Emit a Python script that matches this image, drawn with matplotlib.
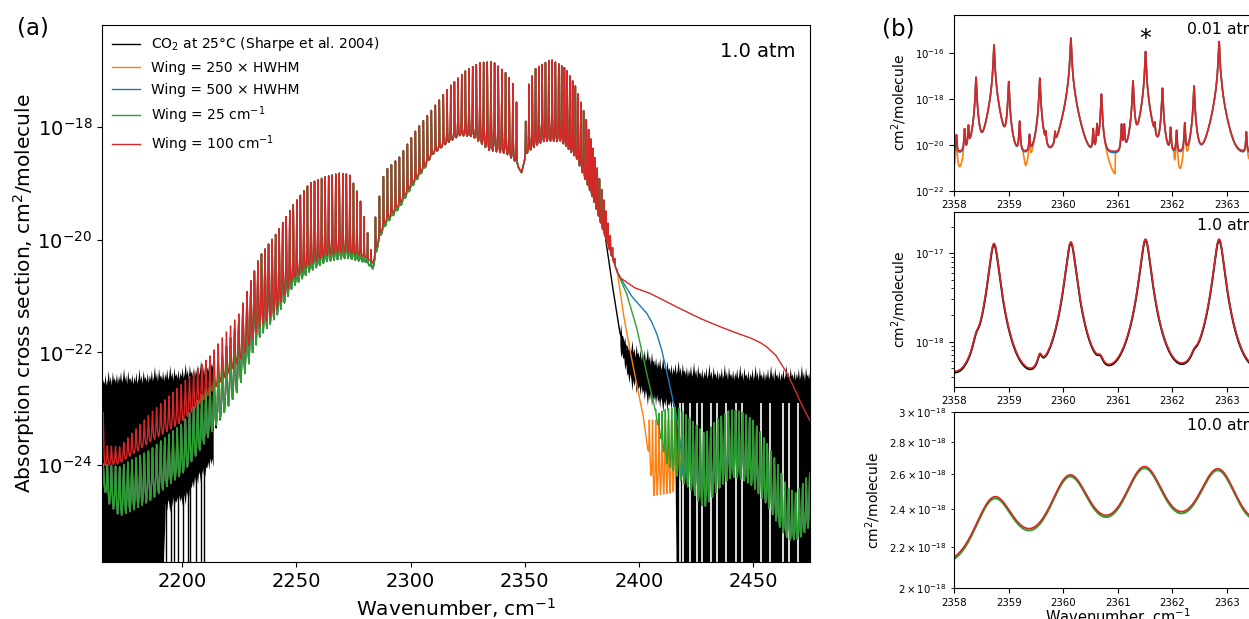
import numpy as np
import matplotlib
matplotlib.use("Agg")
import matplotlib.pyplot as plt
from matplotlib.ticker import FixedLocator, NullLocator

plt.rcParams['font.family'] = ['DejaVu Sans']
plt.rcParams['mathtext.fontset'] = 'dejavusans'

C_BLACK, C_ORANGE, C_BLUE, C_GREEN, C_RED = 'k', '#ff7f0e', '#1f77b4', '#2ca02c', '#d62728'

# ======================= panel (a): values =======================
# all envelope values are log10(cross section / cm^2 molecule^-1)
LINE_SEG_START = [2165.3, 2230.0, 2284.6, 2316.0, 2350.4, 2365.0, 2378.0, 2404.6, 2416.0]
LINE_SEG_STOP = [2230.0, 2282.9, 2316.0, 2348.0, 2365.0, 2378.0, 2392.0, 2416.0, 2475.5]
LINE_SEG_STEP = [1.8, 1.55, 1.75, 1.6, 1.45, 1.2, 0.95, 1.4, 1.55]
GAMMA_NU = [2164.8, 2228.0, 2250.0, 2395.0, 2410.0, 2475.5]
GAMMA_VAL = [0.22, 0.15, 0.05, 0.05, 0.12, 0.15]

RED_UP_NU = [2165.2, 2166.0, 2172.4, 2185.5, 2200.0, 2211.8, 2225.0, 2233.8, 2241.0, 2248.4,
             2255.7, 2263.0, 2268.9, 2273.2, 2277.6, 2280.6, 2282.8, 2284.6, 2287.9, 2289.3,
             2295.2, 2302.5, 2309.8, 2317.1, 2324.4, 2330.3, 2336.1, 2342.0, 2345.6, 2347.8,
             2350.4, 2351.9, 2354.8, 2361.4, 2368.0, 2372.3, 2376.7, 2381.1, 2385.5, 2388.4, 2390.6]
RED_UP_LOG = [-23.0, -23.65, -23.68, -23.1, -22.55, -22.08, -21.3, -20.3, -19.9, -19.39,
              -19.0, -18.88, -18.82, -18.84, -19.24, -19.77, -20.2, -19.6, -18.9, -18.76,
              -18.53, -18.05, -17.67, -17.28, -16.99, -16.86, -16.84, -17.05, -17.28, -18.05,
              -17.9, -17.22, -16.96, -16.80, -16.96, -17.28, -17.82, -18.59, -19.47, -20.13, -20.58]

RED_LO_NU = [2165.2, 2172.4, 2185.5, 2200.0, 2211.8, 2225.0, 2233.8, 2240.0, 2248.4, 2255.7,
             2263.0, 2271.7, 2280.6, 2283.5, 2286.4, 2289.3, 2295.2, 2299.6, 2306.9, 2309.8,
             2315.6, 2321.5, 2327.3, 2334.6, 2342.0, 2346.4, 2348.6, 2350.7, 2358.0, 2365.4,
             2372.7, 2380.0, 2385.8, 2390.6]
RED_LO_LOG = [-24.05, -24.0, -23.65, -23.3, -22.8, -22.24, -21.8, -21.5, -20.75, -20.5,
              -20.32, -20.26, -20.32, -20.42, -19.92, -19.68, -19.38, -19.08, -18.67, -18.49,
              -18.31, -18.17, -18.2, -18.49, -18.52, -18.67, -18.81, -18.49, -18.31, -18.31,
              -18.61, -19.32, -20.03, -20.58]

RED_TAIL_NU = [2390.6, 2392.0, 2394.6, 2398.0, 2404.8, 2412.0, 2419.4, 2427.0, 2434.1, 2441.0,
               2448.7, 2453.0, 2456.0, 2460.0, 2463.3, 2466.0, 2469.1, 2472.0, 2475.5]
RED_TAIL_LOG = [-20.58, -20.68, -20.75, -20.85, -20.95, -21.1, -21.25, -21.4, -21.52, -21.63,
                -21.74, -21.82, -21.9, -22.05, -22.26, -22.45, -22.73, -22.98, -23.25]

GREEN_UP_NU = [2165.2, 2172.4, 2185.5, 2200.0, 2211.8, 2225.0]
GREEN_UP_LOG = [-23.98, -24.03, -23.74, -23.26, -22.55, -21.4]
GREEN_LO_NU = [2165.2, 2168.0, 2172.4, 2178.3, 2185.5, 2192.8, 2200.0, 2207.3, 2211.8, 2222.0,
               2229.4, 2236.0, 2243.0, 2248.4, 2255.7, 2263.0, 2271.7, 2280.6, 2283.5, 2286.4,
               2289.3, 2295.2, 2299.6, 2306.9]
GREEN_LO_LOG = [-24.4, -24.8, -25.1, -25.0, -24.82, -24.55, -24.3, -23.9, -23.6, -23.07,
                -22.65, -22.0, -21.42, -20.9, -20.64, -20.45, -20.39, -20.41, -20.52, -19.98,
                -19.74, -19.44, -19.14, -18.7]
GREEN_TAIL_LO_NU = [2390.6, 2394.6, 2399.0, 2403.4, 2406.3, 2409.3, 2412.2, 2418.0, 2423.0, 2428.0,
                    2432.0, 2437.0, 2442.0, 2449.0, 2456.0, 2462.0, 2466.0, 2471.0, 2475.5]
GREEN_TAIL_LO_LOG = [-20.58, -20.95, -21.55, -22.37, -22.85, -23.5, -24.1, -24.5, -24.7, -25.1,
                     -24.9, -24.6, -24.45, -24.6, -24.9, -25.3, -25.45, -25.4, -25.2]
GREEN_TAIL_UP_NU = [2390.6, 2394.6, 2399.0, 2403.4, 2406.3, 2408.0, 2412.0, 2417.0, 2423.0, 2429.0,
                    2434.0, 2440.0, 2445.0, 2450.0, 2456.0, 2461.0, 2465.0, 2469.0, 2475.5]
GREEN_TAIL_UP_LOG = [-20.58, -20.95, -21.55, -22.37, -22.85, -23.1, -23.0, -22.97, -23.2, -23.45,
                     -23.2, -23.02, -23.05, -23.2, -23.6, -24.0, -24.4, -24.5, -24.1]

ORANGE_TAIL_LO_NU = [2390.6, 2393.2, 2396.1, 2399.0, 2402.0, 2404.9, 2406.3, 2410.0, 2415.0, 2416.5]
ORANGE_TAIL_LO_LOG = [-20.58, -21.31, -21.96, -22.55, -23.15, -24.03, -24.8, -24.9, -24.85, -24.6]
ORANGE_TAIL_UP_NU = [2390.6, 2393.2, 2396.1, 2399.0, 2402.0, 2404.0, 2415.0, 2416.5]
ORANGE_TAIL_UP_LOG = [-20.58, -21.31, -21.96, -22.55, -23.15, -23.2, -23.2, -23.0]

BLUE_TAIL_NU = [2390.6, 2393.0, 2396.8, 2400.0, 2403.4, 2405.4, 2407.8, 2410.0, 2412.0, 2414.4,
                2416.6, 2418.2, 2419.5]
BLUE_TAIL_LOG = [-20.58, -20.75, -21.0, -21.15, -21.3, -21.44, -21.66, -21.95, -22.3, -22.75,
                 -23.15, -23.6, -24.2]

BLACK_FALL_NU = [2385.5, 2388.0, 2391.7, 2394.6, 2395.5]
BLACK_FALL_LOG = [-20.0, -20.7, -21.66, -21.9, -22.0]
BLACK_EXTRA_NU = [2204.0, 2210.0, 2218.0]
BLACK_EXTRA_LOG = [-0.3, -0.2, 0.0]

NOISE_L_NU = [2164.8, 2172.0, 2180.0, 2188.0, 2196.0, 2204.0, 2210.0, 2213.5]
NOISE_L_TOP = [-22.62, -22.55, -22.57, -22.52, -22.5, -22.45, -22.4, -22.3]
NOISE_L_BOT_NU = [2164.8, 2191.5, 2192.5, 2200.0, 2207.0, 2213.5]
NOISE_L_BOT = [-26.0, -26.0, -24.6, -24.5, -24.1, -23.8]
NOISE_R_NU = [2391.7, 2395.0, 2400.0, 2405.0, 2412.0, 2420.0, 2430.0, 2450.0, 2475.5]
NOISE_R_TOP = [-21.7, -22.02, -22.12, -22.22, -22.38, -22.43, -22.48, -22.5, -22.5]
NOISE_R_BOT_NU = [2391.7, 2395.0, 2400.0, 2405.0, 2410.0, 2415.6, 2416.4, 2475.5]
NOISE_R_BOT = [-21.8, -22.3, -22.55, -22.7, -22.78, -22.85, -26.0, -26.0]
NOISE_TEXTURE = [0.00, 0.14, 0.05, 0.22, 0.02, 0.10, 0.28, 0.06, 0.16, 0.0, 0.24, 0.08, 0.12, 0.03, 0.19]

BLACK_DROP_NU = [2192.9, 2195.0, 2196.4, 2198.0, 2200.1, 2202.3, 2203.4, 2206.0, 2208.2, 2209.4]
WHITE_GAP_NU = [2417.9, 2419.5, 2422.4, 2425.4, 2427.5, 2431.8, 2434.3, 2438.0, 2442.8, 2445.0,
                2453.7, 2457.6, 2463.3, 2465.9, 2469.8]

A_TICKS_X = [2200, 2250, 2300, 2350, 2400, 2450]
A_TICKS_Y = [1e-24, 1e-22, 1e-20, 1e-18]
LEGEND_LABELS = ['CO$_2$ at 25°C (Sharpe et al. 2004)', 'Wing = 250 × HWHM', 'Wing = 500 × HWHM',
                 'Wing = 25 cm$^{-1}$', 'Wing = 100 cm$^{-1}$']

# ======================= panel (b): values =======================
B_NU_001 = [2358.04, 2358.19, 2358.26, 2358.40, 2358.73, 2359.00, 2359.20, 2359.38, 2359.57, 2359.68,
            2359.85, 2360.14, 2360.55, 2360.62, 2360.70, 2361.07, 2361.12, 2361.28, 2361.51, 2361.68,
            2361.82, 2361.97, 2362.08, 2362.23, 2362.40, 2362.86, 2362.90, 2363.36]
B_PEAK_001 = [-19.64, -19.35, -19.2, -17.05, -15.64, -17.24, -18.99, -19.64, -17.09, -19.6,
              -19.6, -15.34, -19.35, -19.13, -17.79, -19.13, -19.13, -17.21, -15.93, -19.2,
              -17.53, -19.28, -19.42, -19.06, -17.43, -15.49, -17.9, -19.49]
B_BASE_001_RED = -20.30
B_BASE_001_BLUE = -20.36
ORANGE_BASE_NU = [2357.99, 2358.10, 2358.16, 2358.175, 2359.26, 2359.31, 2359.36, 2359.42, 2359.48,
                  2360.73, 2360.95, 2360.955, 2362.03, 2362.05, 2362.17, 2362.20, 2362.27, 2362.31,
                  2362.325, 2363.33, 2363.40, 2364.0]
ORANGE_BASE_LOG = [-21.15, -21.2, -21.0, -20.36, -20.36, -21.24, -21.0, -21.1, -20.36,
                   -20.36, -21.53, -20.36, -20.36, -21.62, -21.66, -21.4, -21.24, -21.2,
                   -20.36, -20.36, -20.7, -20.7]

B_NU_1 = [2357.35, 2358.40, 2358.73, 2359.57, 2360.14, 2360.68, 2361.51, 2362.40, 2362.86, 2364.20]
B_AMP_1_MODEL = [12.0, 0.25, 12.8, 0.2, 13.3, 0.12, 14.3, 0.10, 14.3, 13.5]   # 1e-18 cm^2
B_AMP_1_OBS = [11.6, 0.25, 12.4, 0.2, 12.9, 0.12, 13.9, 0.10, 13.9, 13.1]
B_GAM_1 = [0.09, 0.06, 0.09, 0.05, 0.09, 0.06, 0.09, 0.06, 0.09, 0.09]

B_NU_10 = [2357.35, 2358.73, 2360.12, 2361.49, 2362.84, 2364.20]
B_GAM_10 = 0.55
T_NU_10 = [2358.0, 2358.75, 2359.4, 2360.08, 2360.78, 2361.45, 2362.1, 2362.8, 2363.4]
T_VAL_10_RED = [2.15, 2.47, 2.29, 2.59, 2.37, 2.64, 2.39, 2.63, 2.37]     # 1e-18 cm^2
T_VAL_10_GREEN = [2.14, 2.46, 2.28, 2.58, 2.36, 2.63, 2.38, 2.62, 2.36]

B_TICKS_X = [2358, 2359, 2360, 2361, 2362, 2363, 2364]
B_LABELS = ['0.01 atm', '1.0 atm', '10.0 atm']


# ======================= helpers =======================
def env(x, kn, kv):
    return np.interp(x, kn, kv)


def comb(x, centers, gamma):
    centers = np.sort(np.asarray(centers))
    idx = np.searchsorted(centers, x)
    left = centers[np.clip(idx - 1, 0, len(centers) - 1)]
    right = centers[np.clip(idx, 0, len(centers) - 1)]
    d = np.minimum(np.abs(x - left), np.abs(x - right))
    return gamma ** 2 / (gamma ** 2 + d ** 2)


def spec(up_log, lo_log, L):
    lo = 10.0 ** lo_log
    up = 10.0 ** np.maximum(up_log, lo_log)
    return lo + (up - lo) * L


def lines_sum(x, centers, amps, gams, decay=None):
    out = np.zeros_like(x)
    for c, a, g in zip(centers, amps, gams):
        d = x - c
        prof = g * g / (g * g + d * d)
        if decay is not None:
            prof = prof * np.exp(-np.abs(d) / decay)
        out += a * prof
    return out


# ======================= figure =======================
fig = plt.figure(figsize=(12.49, 6.19), dpi=100)
ax = fig.add_axes([0.0817, 0.0921, 0.5668, 0.8675])

nu = np.arange(2164.8, 2475.01, 0.01)
centers = np.concatenate([np.arange(s, e, st) for s, e, st in
                          zip(LINE_SEG_START, LINE_SEG_STOP, LINE_SEG_STEP)])
L = comb(nu, centers, env(nu, GAMMA_NU, GAMMA_VAL))

red_up = np.where(nu < 2390.6, env(nu, RED_UP_NU, RED_UP_LOG), env(nu, RED_TAIL_NU, RED_TAIL_LOG))
red_lo = np.where(nu < 2390.6, env(nu, RED_LO_NU, RED_LO_LOG), env(nu, RED_TAIL_NU, RED_TAIL_LOG))

band_up = np.where(nu < 2225.0, env(nu, GREEN_UP_NU, GREEN_UP_LOG), red_up)
band_lo = np.where(nu < 2306.9, env(nu, GREEN_LO_NU, GREEN_LO_LOG), red_lo)
g_tail_up = env(nu, GREEN_TAIL_UP_NU, GREEN_TAIL_UP_LOG)
g_tail_lo = env(nu, GREEN_TAIL_LO_NU, GREEN_TAIL_LO_LOG)
green_up = np.where(nu < 2390.6, band_up, g_tail_up)
green_lo = np.where(nu < 2390.6, band_lo, g_tail_lo)

o_up = np.where(nu < 2416.5, env(nu, ORANGE_TAIL_UP_NU, ORANGE_TAIL_UP_LOG), g_tail_up)
o_lo = np.where(nu < 2416.5, env(nu, ORANGE_TAIL_LO_NU, ORANGE_TAIL_LO_LOG), g_tail_lo)
orange_up = np.where(nu < 2390.6, band_up, o_up)
orange_lo = np.where(nu < 2390.6, band_lo, o_lo)

b_tail = env(nu, BLUE_TAIL_NU, BLUE_TAIL_LOG)
b_up = np.where(nu < 2419.5, b_tail, g_tail_up)
b_lo = np.where(nu < 2419.5, b_tail, g_tail_lo)
blue_up = np.where(nu < 2390.6, band_up, b_up)
blue_lo = np.where(nu < 2390.6, band_lo, b_lo)

fall = env(nu, BLACK_FALL_NU, BLACK_FALL_LOG)
black_up = np.where(nu < 2385.5, band_up, fall)
black_lo = np.where(nu < 2385.5, band_lo + env(nu, BLACK_EXTRA_NU, BLACK_EXTRA_LOG), fall)
black = spec(black_up, black_lo, L)
black[(nu < 2204.0) | (nu > 2395.5)] = np.nan

red = spec(red_up, red_lo, L)
green = spec(green_up, green_lo, L)
orange = spec(orange_up, orange_lo, L)
blue = spec(blue_up, blue_lo, L)

# observed noise (black filled band)
tex_nu = np.arange(2164.8, 2476.0, 0.45)
tex = np.resize(np.array(NOISE_TEXTURE), tex_nu.size)
off = np.interp(nu, tex_nu, tex)
maskL = nu <= 2213.5
topL = env(nu, NOISE_L_NU, NOISE_L_TOP) + off
botL = env(nu, NOISE_L_BOT_NU, NOISE_L_BOT)
botL = np.where(botL > -25.9, botL - off, botL)
ax.fill_between(nu, 10.0 ** botL, 10.0 ** topL, where=maskL, color=C_BLACK, lw=0, zorder=1)
maskR = nu >= 2391.7
topR = env(nu, NOISE_R_NU, NOISE_R_TOP) + off
botR = env(nu, NOISE_R_BOT_NU, NOISE_R_BOT)
botR = np.where(botR > -25.9, botR - off, botR)
ax.fill_between(nu, 10.0 ** botR, 10.0 ** topR, where=maskR, color=C_BLACK, lw=0, zorder=1)
ax.vlines(BLACK_DROP_NU, 1e-26, 10.0 ** -23.9, color=C_BLACK, lw=1.0, zorder=1)
ax.vlines(WHITE_GAP_NU, 1e-26, 10.0 ** -22.9, color='white', lw=1.2, zorder=1.5)

h_black, = ax.plot(nu, black, color=C_BLACK, lw=1.0, zorder=1.2)
h_orange, = ax.plot(nu, orange, color=C_ORANGE, lw=1.0, zorder=2.0)
h_blue, = ax.plot(nu, blue, color=C_BLUE, lw=1.0, zorder=2.1)
h_green, = ax.plot(nu, green, color=C_GREEN, lw=1.0, zorder=2.2)
h_red, = ax.plot(nu, red, color=C_RED, lw=1.0, zorder=2.3)

ax.set_yscale('log')
ax.set_xlim(2164.8, 2475.0)
ax.set_ylim(10.0 ** -25.72, 10.0 ** -16.19)
ax.xaxis.set_major_locator(FixedLocator(A_TICKS_X))
ax.yaxis.set_major_locator(FixedLocator(A_TICKS_Y))
ax.yaxis.set_minor_locator(NullLocator())
ax.tick_params(labelsize=14)
ax.set_xlabel('Wavenumber, cm$^{-1}$', fontsize=14.5)
ax.set_ylabel('Absorption cross section, cm$^2$/molecule', fontsize=14.5, labelpad=0)
ax.legend([h_black, h_orange, h_blue, h_green, h_red], LEGEND_LABELS, loc='upper left',
          frameon=False, fontsize=10, labelspacing=0.55, handlelength=2.0, borderaxespad=0.35)
ax.text(0.98, 0.95, '1.0 atm', transform=ax.transAxes, ha='right', va='center', fontsize=14)
fig.text(0.0136, 0.955, '(a)', fontsize=16.5, ha='left', va='center')
fig.text(0.7062, 0.953, '(b)', fontsize=16.5, ha='left', va='center')

# ======================= panel (b) =======================
axb1 = fig.add_axes([0.764, 0.692, 0.2618, 0.2838])
axb2 = fig.add_axes([0.764, 0.3753, 0.2618, 0.2827])
axb3 = fig.add_axes([0.764, 0.0496, 0.2618, 0.2853])
nub = np.arange(2358.0, 2364.0005, 0.0005)

peaks = 10.0 ** np.array(B_PEAK_001)
gam001 = [0.008] * len(B_NU_001)
full = lines_sum(nub, B_NU_001, peaks, gam001, decay=0.08)
orange_b = 10.0 ** env(nub, ORANGE_BASE_NU, ORANGE_BASE_LOG) + full
blue_b = 10.0 ** B_BASE_001_BLUE + full
red_b = 10.0 ** B_BASE_001_RED + full
axb1.plot(nub, orange_b, color=C_ORANGE, lw=1.2)
axb1.plot(nub, blue_b, color=C_BLUE, lw=1.2)
axb1.plot(nub, red_b, color=C_RED, lw=1.2)
axb1.set_yscale('log')
axb1.set_ylim(1e-22, 10.0 ** -14.33)
axb1.yaxis.set_major_locator(FixedLocator([1e-22, 1e-20, 1e-18, 1e-16]))
axb1.yaxis.set_minor_locator(NullLocator())
axb1.text(2361.5, 10.0 ** -15.70, '*', fontsize=17, ha='center', va='baseline')

obs1 = lines_sum(nub, B_NU_1, np.array(B_AMP_1_OBS) * 1e-18, B_GAM_1)
mod1 = lines_sum(nub, B_NU_1, np.array(B_AMP_1_MODEL) * 1e-18, B_GAM_1)
axb2.plot(nub, obs1, color=C_BLACK, lw=1.4)
axb2.plot(nub, mod1, color=C_RED, lw=1.2)
axb2.set_yscale('log')
axb2.set_ylim(10.0 ** -18.51, 10.0 ** -16.53)


def fit10(targets):
    tn = np.asarray(T_NU_10)
    cols = [np.ones_like(tn)] + [B_GAM_10 ** 2 / (B_GAM_10 ** 2 + (tn - c) ** 2) for c in B_NU_10]
    M = np.column_stack(cols)
    coef, *_ = np.linalg.lstsq(M, np.asarray(targets), rcond=None)
    return coef[0] + lines_sum(nub, B_NU_10, coef[1:], [B_GAM_10] * len(B_NU_10))


axb3.plot(nub, fit10(T_VAL_10_GREEN) * 1e-18, color=C_GREEN, lw=1.4)
axb3.plot(nub, fit10(T_VAL_10_RED) * 1e-18, color=C_RED, lw=1.2)
axb3.set_yscale('log')
axb3.set_ylim(2e-18, 3e-18)
axb3.yaxis.set_major_locator(NullLocator())
axb3.yaxis.set_minor_locator(FixedLocator([2.0e-18, 2.2e-18, 2.4e-18, 2.6e-18, 2.8e-18, 3.0e-18]))

for a, lab in zip([axb1, axb2, axb3], B_LABELS):
    a.set_xlim(2358, 2364)
    a.xaxis.set_major_locator(FixedLocator(B_TICKS_X))
    a.tick_params(which='both', labelsize=7.3)
    a.set_ylabel('cm$^2$/molecule', fontsize=10)
    a.text(0.928, 0.92, lab, transform=a.transAxes, ha='right', va='center', fontsize=11.3)
axb3.set_xlabel('Wavenumber, cm$^{-1}$', fontsize=10.5, labelpad=-1)

fig.savefig('out.png', dpi=100)
